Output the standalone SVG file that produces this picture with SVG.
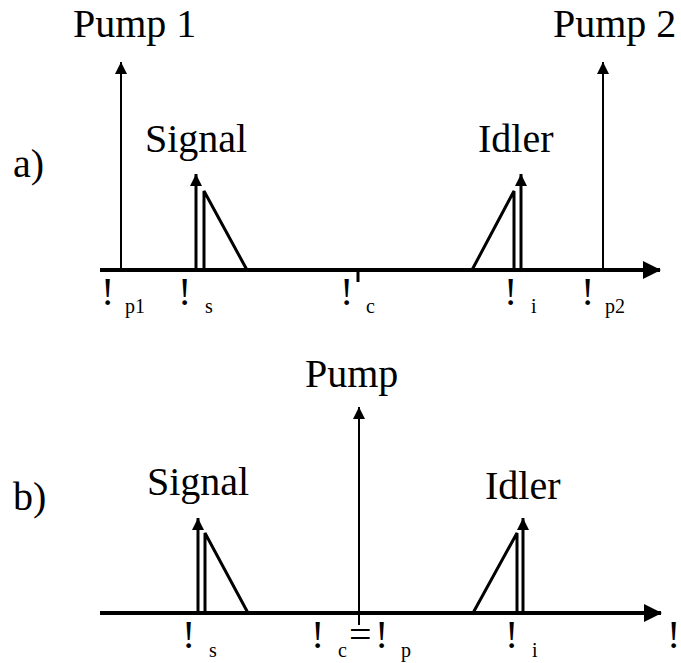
<svg xmlns="http://www.w3.org/2000/svg" width="681" height="663" viewBox="0 0 681 663">
<style>
text{font-family:"Liberation Serif","Times New Roman",serif;fill:#000}
.big{font-size:40px}
.sym{font-size:40px}
.sub{font-size:20px}
.ax{stroke:#000;stroke-width:4;fill:none}
.pl{stroke:#000;stroke-width:2;fill:none}
.sl{stroke:#000;stroke-width:3;fill:none}
.tri{stroke:#000;stroke-width:3;fill:none;stroke-linejoin:miter}
</style>
<defs>
<marker id="axh" markerUnits="userSpaceOnUse" markerWidth="18" markerHeight="18" refX="17" refY="9" orient="auto"><path d="M0,0 L18,9 L0,18 z" fill="#000"/></marker>
<marker id="ph" markerUnits="userSpaceOnUse" markerWidth="12" markerHeight="12" refX="12" refY="6" orient="auto"><path d="M0,0 L12,6 L0,12 z" fill="#000"/></marker>
</defs>
<rect width="681" height="663" fill="#fff"/>
<g id="panel-a">
<text class="big" x="13" y="177">a)</text>
<g id="axis-a"><line class="ax" x1="100" y1="270" x2="660" y2="270" marker-end="url(#axh)"/><line class="sl" x1="358" y1="270" x2="358" y2="282"/></g>
<g id="pump1"><line class="pl" x1="121" y1="271" x2="121" y2="62" marker-end="url(#ph)"/><text class="big" x="73" y="37">Pump 1</text></g>
<g id="pump2"><line class="pl" x1="603" y1="271" x2="603" y2="62" marker-end="url(#ph)"/><text class="big" x="553" y="37">Pump 2</text></g>
<g id="signal-a"><line class="sl" x1="196" y1="271" x2="196" y2="174" marker-end="url(#ph)"/><path class="tri" d="M204,271 L204,191 L247,270"/><text class="big" x="145" y="152">Signal</text></g>
<g id="idler-a"><line class="sl" x1="521" y1="271" x2="521" y2="174" marker-end="url(#ph)"/><path class="tri" d="M514,271 L514,191 L472,270"/><text class="big" x="478" y="152">Idler</text></g>
<g id="labels-a">
<text class="sym" x="101" y="305">!</text><text class="sub" x="125" y="313">p1</text>
<text class="sym" x="178" y="305">!</text><text class="sub" x="205" y="313">s</text>
<text class="sym" x="340" y="305">!</text><text class="sub" x="366" y="313">c</text>
<text class="sym" x="504" y="305">!</text><text class="sub" x="531" y="313">i</text>
<text class="sym" x="581" y="305">!</text><text class="sub" x="605" y="313">p2</text>
</g>
</g>
<g id="panel-b">
<text class="big" x="13" y="510">b)</text>
<g id="axis-b"><line class="ax" x1="100" y1="613" x2="661" y2="613" marker-end="url(#axh)"/></g>
<g id="pump"><line class="pl" x1="359" y1="625" x2="359" y2="407" marker-end="url(#ph)"/><text class="big" x="305" y="387">Pump</text></g>
<g id="signal-b"><line class="sl" x1="198" y1="614" x2="198" y2="518" marker-end="url(#ph)"/><path class="tri" d="M205,614 L205,533 L248,613"/><text class="big" x="147" y="495">Signal</text></g>
<g id="idler-b"><line class="sl" x1="523" y1="614" x2="523" y2="518" marker-end="url(#ph)"/><path class="tri" d="M517,614 L517,533 L473,613"/><text class="big" x="485" y="499">Idler</text></g>
<g id="labels-b">
<text class="sym" x="182" y="648">!</text><text class="sub" x="209" y="657">s</text>
<text class="sym" x="311" y="648">!</text><text class="sub" x="338" y="657">c</text>
<text class="sym" x="349" y="648">=</text>
<text class="sym" x="375" y="648">!</text><text class="sub" x="401" y="657">p</text>
<text class="sym" x="505" y="648">!</text><text class="sub" x="532" y="657">i</text>
<text class="sym" x="667" y="648">!</text>
</g>
</g>
</svg>
